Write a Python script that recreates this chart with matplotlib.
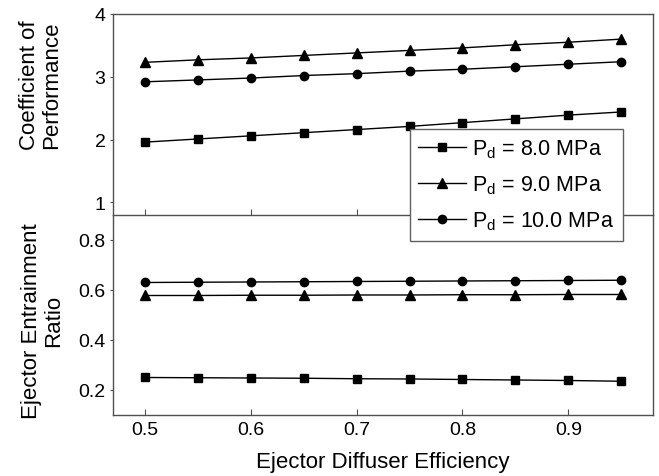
import matplotlib
matplotlib.use("Agg")
import matplotlib.pyplot as plt

plt.rcParams['font.family'] = ['Liberation Sans', 'DejaVu Sans']
plt.rcParams['mathtext.fontset'] = 'custom'
plt.rcParams['mathtext.rm'] = 'Liberation Sans'
plt.rcParams['mathtext.it'] = 'Liberation Sans:italic'

# diffuser efficiency
eff = [0.5, 0.55, 0.6, 0.65, 0.7, 0.75, 0.8, 0.85, 0.9, 0.95]

# coefficient of performance
cop_8 = [1.96, 2.01, 2.06, 2.11, 2.16, 2.21, 2.27, 2.33, 2.39, 2.44]
cop_9 = [3.23, 3.27, 3.30, 3.34, 3.38, 3.42, 3.46, 3.51, 3.55, 3.60]
cop_10 = [2.92, 2.95, 2.98, 3.02, 3.05, 3.09, 3.12, 3.16, 3.20, 3.24]

# entrainment ratio
er_8 = [0.250, 0.249, 0.248, 0.247, 0.245, 0.244, 0.242, 0.240, 0.238, 0.235]
er_9 = [0.578, 0.578, 0.579, 0.579, 0.580, 0.580, 0.581, 0.581, 0.582, 0.582]
er_10 = [0.630, 0.631, 0.632, 0.633, 0.634, 0.635, 0.636, 0.637, 0.638, 0.639]

labels = [r'P$_\mathrm{d}$ = 8.0 MPa', r'P$_\mathrm{d}$ = 9.0 MPa', r'P$_\mathrm{d}$ = 10.0 MPa']
xticks = [0.5, 0.6, 0.7, 0.8, 0.9]

fig = plt.figure(figsize=(6.59, 4.77), dpi=100)
ax1 = fig.add_axes([0.1715, 0.5472, 0.8195, 0.4214])
ax2 = fig.add_axes([0.1715, 0.1279, 0.8195, 0.4193], sharex=ax1)

spine_col = '#505050'
for ax in (ax1, ax2):
    for s in ax.spines.values():
        s.set_color(spine_col)
        s.set_linewidth(1.0)
    ax.tick_params(axis='x', direction='in', length=4.5, width=0.8, color=spine_col,
                   labelsize=14, pad=4)
    ax.tick_params(axis='y', direction='out', length=2.5, width=0.8, color=spine_col,
                   labelsize=14, pad=3)

kw = dict(color='black', lw=1.0)
l1, = ax1.plot(eff, cop_8, marker='s', ms=5.5, **kw)
l2, = ax1.plot(eff, cop_9, marker='^', ms=6.5, **kw)
l3, = ax1.plot(eff, cop_10, marker='o', ms=6, **kw)

ax2.plot(eff, er_8, marker='s', ms=5.5, **kw)
ax2.plot(eff, er_9, marker='^', ms=6.5, **kw)
ax2.plot(eff, er_10, marker='o', ms=6, **kw)

ax1.set_xlim(0.47, 0.98)
ax1.set_xticks(xticks)
ax1.tick_params(axis='x', labelbottom=False)
ax1.set_ylim(0.8, 4)
ax1.set_yticks([1, 2, 3, 4])
ax1.spines['bottom'].set_visible(False)

ax2.set_ylim(0.1, 0.9)
ax2.set_yticks([0.2, 0.4, 0.6, 0.8])
ax2.set_xticklabels(['0.5', '0.6', '0.7', '0.8', '0.9'])

ax1.set_ylabel('Coefficient of\nPerformance', fontsize=16, linespacing=1.1)
ax1.yaxis.set_label_coords(-0.094, 0.65)
ax2.set_ylabel('Ejector Entrainment\nRatio', fontsize=16, linespacing=1.1)
ax2.yaxis.set_label_coords(-0.09, 0.475)
ax2.set_xlabel('Ejector Diffuser Efficiency', fontsize=16, labelpad=10)

leg = fig.legend([l1, l2, l3], labels, loc='upper right',
                 bbox_to_anchor=(0.945, 0.7275), borderaxespad=0,
                 fontsize=15.5, fancybox=False,
                 framealpha=1, edgecolor='#606060', handlelength=2.2,
                 handletextpad=0.3, labelspacing=0.62, borderpad=0.4)
leg.get_frame().set_linewidth(1.0)

fig.savefig('out.png', dpi=100)
